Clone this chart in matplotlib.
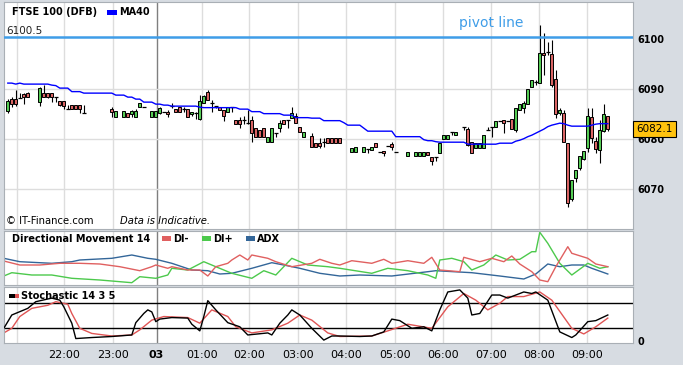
import numpy as np
import matplotlib
matplotlib.use('Agg')
import matplotlib.pyplot as plt
from matplotlib.patches import Rectangle
from matplotlib.transforms import blended_transform_factory

nan = np.nan

# FTSE 100 (DFB) 5 minute bars, bar 0 = 20:55
opens = [6085.7, 6088.0, 6088.0, 6088.2, 6089.0, 6089.3, nan, nan, 6087.5, 6089.3,
         6089.3, 6089.3, 6088.5, 6087.6, 6087.6, 6086.0, 6086.8, 6086.8, 6086.8, 6085.2,
         nan, nan, nan, nan, nan, nan, 6086.0, 6084.5, nan, 6084.5,
         6085.3, 6085.0, 6084.5, 6086.4, 6086.4, nan, 6084.5, 6084.5, 6085.2, 6085.5,
         6085.5, 6086.6, 6086.0, 6086.4, 6086.0, 6086.0, 6085.0, 6085.2, 6084.0, 6087.3,
         6089.5, 6087.2, 6086.6, 6086.4, 6085.8, 6085.5, 6086.4, 6083.8, 6083.8, 6083.8,
         6083.3, 6083.8, 6082.2, 6081.8, 6082.2, 6079.5, 6079.5, 6081.3, 6082.2, 6083.8,
         6083.8, 6084.2, 6084.6, 6082.5, 6080.5, nan, 6080.6, 6079.3, 6079.3, 6079.4,
         6080.2, 6080.2, 6080.2, 6080.2, nan, nan, 6077.5, 6077.5, nan, 6077.5,
         6078.0, 6077.8, 6079.3, 6077.5, 6077.7, 6078.6, 6079.0, 6077.5, nan, nan,
         6076.7, nan, 6076.7, 6076.7, 6076.7, 6077.5, 6076.4, 6076.4, 6077.3, 6080.0,
         6080.0, 6081.5, 6080.8, nan, 6082.4, 6082.0, 6079.5, 6078.2, 6078.2, 6078.2,
         6081.8, 6082.4, 6082.4, 6083.6, 6083.8, 6083.6, 6084.1, 6081.8, 6085.8, 6086.2,
         6087.0, 6090.5, 6091.4, 6091.2, 6097.3, 6097.5, 6097.0, 6092.0, 6085.2, 6085.3,
         6079.3, 6068.0, 6072.2, 6074.2, 6076.0, 6078.2, 6084.4, 6079.7, 6077.8, 6081.6,
         6084.6]
highs = [6088.0, 6088.5, 6089.8, 6089.2, 6089.3, 6089.4, nan, nan, 6090.4, 6090.8,
         6089.3, 6089.3, 6088.5, 6087.7, 6087.6, 6086.8, 6086.8, 6086.8, 6086.8, 6086.8,
         nan, nan, nan, nan, nan, nan, 6086.4, 6085.6, nan, 6085.6,
         6085.3, 6085.8, 6086.0, 6087.3, 6086.4, nan, 6085.6, 6085.6, 6086.5, 6085.5,
         6085.8, 6087.2, 6086.0, 6086.4, 6086.4, 6086.0, 6085.5, 6085.5, 6088.8, 6088.8,
         6089.8, 6087.8, 6086.6, 6086.4, 6085.8, 6086.5, 6086.5, 6083.8, 6084.5, 6084.6,
         6085.8, 6084.6, 6082.2, 6081.8, 6082.2, 6080.4, 6082.2, 6081.3, 6083.8, 6083.8,
         6083.8, 6086.4, 6085.2, 6082.5, 6081.5, nan, 6081.3, 6079.3, 6080.2, 6080.2,
         6080.2, 6080.2, 6080.2, 6080.2, nan, nan, 6078.2, 6078.4, nan, 6078.4,
         6078.0, 6078.4, 6079.3, 6077.5, 6077.7, 6078.6, 6079.5, 6077.5, nan, nan,
         6077.5, nan, 6077.4, 6077.5, 6077.5, 6077.5, 6076.4, 6076.4, 6079.3, 6080.8,
         6080.8, 6081.5, 6081.5, nan, 6082.4, 6082.4, 6079.5, 6079.2, 6079.2, 6080.8,
         6082.4, 6082.4, 6083.6, 6083.6, 6083.8, 6083.6, 6084.1, 6086.2, 6087.0, 6087.6,
         6090.0, 6091.8, 6091.8, 6102.8, 6101.2, 6099.5, 6099.8, 6093.8, 6086.2, 6085.8,
         6079.3, 6071.8, 6073.8, 6076.6, 6077.6, 6086.2, 6086.2, 6080.5, 6083.8, 6087.0,
         6084.6]
lows = [6085.3, 6086.5, 6086.6, 6088.2, 6087.0, 6088.4, nan, nan, 6086.6, 6088.5,
        6088.3, 6087.5, 6087.5, 6086.6, 6086.0, 6086.0, 6086.0, 6086.0, 6085.2, 6085.2,
        nan, nan, nan, nan, nan, nan, 6084.5, 6084.5, nan, 6084.5,
        6084.5, 6084.5, 6084.5, 6086.4, 6086.4, nan, 6084.5, 6084.5, 6085.0, 6085.5,
        6084.5, 6086.2, 6085.5, 6085.5, 6085.5, 6084.5, 6084.6, 6084.0, 6083.8, 6087.3,
        6087.8, 6085.5, 6086.2, 6085.8, 6083.7, 6085.5, 6085.5, 6083.0, 6082.2, 6083.0,
        6083.0, 6079.5, 6080.4, 6080.4, 6080.4, 6079.5, 6079.5, 6080.5, 6081.5, 6083.0,
        6082.2, 6084.2, 6083.2, 6081.4, 6080.5, nan, 6078.4, 6078.4, 6078.2, 6078.4,
        6079.2, 6079.2, 6079.2, 6079.2, nan, nan, 6077.5, 6077.5, nan, 6077.5,
        6077.3, 6077.8, 6078.4, 6077.5, 6076.6, 6078.6, 6077.8, 6077.5, nan, nan,
        6076.7, nan, 6076.7, 6076.7, 6076.7, 6076.8, 6074.8, 6075.7, 6077.3, 6080.0,
        6080.0, 6080.8, 6080.8, nan, 6081.8, 6078.6, 6077.3, 6078.2, 6078.2, 6078.2,
        6081.8, 6080.4, 6082.4, 6083.6, 6081.2, 6083.6, 6082.0, 6081.4, 6085.8, 6085.2,
        6087.0, 6090.5, 6090.8, 6091.2, 6092.8, 6096.8, 6090.5, 6084.2, 6084.8, 6079.5,
        6066.5, 6067.6, 6071.5, 6073.8, 6075.8, 6077.5, 6079.2, 6077.2, 6075.2, 6081.5,
        6081.7]
closes = [6087.6, 6087.0, 6087.0, 6088.2, 6088.5, 6088.5, nan, nan, 6090.2, 6088.5,
          6088.5, 6088.5, 6088.5, 6086.8, 6086.7, 6086.0, 6086.0, 6086.0, 6086.0, 6085.2,
          nan, nan, nan, nan, nan, nan, 6085.5, 6085.6, nan, 6085.6,
          6084.5, 6085.6, 6085.6, 6087.3, 6086.4, nan, 6085.6, 6085.6, 6086.3, 6085.5,
          6085.0, 6086.6, 6085.5, 6085.5, 6086.0, 6084.5, 6085.5, 6085.2, 6087.7, 6088.6,
          6087.8, 6087.2, 6086.6, 6085.8, 6084.6, 6086.5, 6086.4, 6083.0, 6083.0, 6083.8,
          6083.3, 6081.2, 6080.4, 6080.4, 6080.4, 6080.4, 6082.2, 6081.3, 6083.2, 6083.0,
          6083.8, 6085.2, 6083.2, 6081.4, 6081.5, nan, 6078.4, 6078.4, 6078.6, 6079.4,
          6079.2, 6079.2, 6079.2, 6079.2, nan, nan, 6078.2, 6078.4, nan, 6078.4,
          6078.0, 6078.4, 6078.4, 6077.5, 6077.2, 6078.6, 6078.4, 6077.5, nan, nan,
          6077.5, nan, 6077.4, 6077.5, 6077.5, 6076.8, 6075.7, 6076.4, 6079.3, 6080.8,
          6080.8, 6081.5, 6081.5, nan, 6082.4, 6078.8, 6077.3, 6079.2, 6079.2, 6080.8,
          6081.8, 6082.4, 6083.6, 6083.6, 6083.2, 6083.6, 6082.0, 6086.2, 6087.0, 6087.2,
          6090.0, 6091.8, 6091.4, 6097.2, 6096.8, 6097.5, 6090.8, 6085.0, 6085.8, 6079.5,
          6067.3, 6071.8, 6073.8, 6076.6, 6077.6, 6084.6, 6080.2, 6078.1, 6081.8, 6085.0,
          6082.1]
ma40 = [6091.2, 6091.2, 6091.0, 6091.2, 6091.0, 6091.0, 6091.0, 6091.0, 6091.0, 6091.0,
        6091.0, 6090.8, 6090.7, 6090.2, 6090.2, 6090.2, 6089.5, 6089.5, 6089.5, 6089.2,
        6089.2, 6089.2, 6089.2, 6089.2, 6089.2, 6089.2, 6089.2, 6088.8, 6088.8, 6088.8,
        6088.4, 6088.4, 6088.0, 6088.0, 6087.4, 6087.4, 6087.4, 6087.0, 6087.0, 6086.8,
        6086.8, 6086.6, 6086.6, 6086.6, 6086.6, 6086.6, 6086.6, 6086.6, 6086.4, 6086.3,
        6086.3, 6086.3, 6086.3, 6086.3, 6086.3, 6086.3, 6086.3, 6086.3, 6086.0, 6086.0,
        6086.0, 6085.5, 6085.5, 6085.5, 6085.1, 6085.1, 6085.1, 6085.1, 6085.1, 6084.8,
        6084.8, 6084.8, 6084.3, 6084.3, 6084.3, 6084.3, 6084.2, 6084.2, 6084.2, 6083.7,
        6083.7, 6083.7, 6083.7, 6083.7, 6083.3, 6082.8, 6082.8, 6082.8, 6082.8, 6082.2,
        6081.6, 6081.6, 6081.6, 6081.6, 6081.6, 6081.6, 6081.6, 6080.5, 6080.5, 6080.5,
        6080.5, 6080.5, 6080.5, 6080.5, 6079.9, 6079.7, 6079.7, 6079.5, 6079.4, 6079.4,
        6079.4, 6079.4, 6079.4, 6079.4, 6079.4, 6079.0, 6079.0, 6079.0, 6079.0, 6079.0,
        6079.0, 6079.0, 6079.0, 6079.2, 6079.2, 6079.2, 6079.2, 6079.6, 6079.8, 6080.1,
        6080.5, 6080.8, 6081.2, 6081.6, 6082.0, 6082.5, 6082.8, 6083.0, 6083.2, 6083.1,
        6082.8, 6082.6, 6082.6, 6082.6, 6082.6, 6082.6, 6082.8, 6083.0, 6083.1, 6083.1,
        6083.1]

pivot = 6100.5
last_price = 6082.1
price_ticks = [6070, 6080, 6090, 6100]

# hour boundaries (in bars), first one is 21:00 with no label
hour_bars = [2.2, 14.1, 26.4, 37.2, 48.5, 60.4, 72.5, 84.6, 96.7, 108.7, 120.9, 132.9, 144.9]
hour_labels = ['22:00', '23:00', '03', '01:00', '02:00', '03:00', '04:00',
               '05:00', '06:00', '07:00', '08:00', '09:00']

# Directional Movement 14
adx_bars = [-1, 3, 11, 16, 18, 26, 31, 35, 37, 41, 46, 50, 53, 56, 61, 66, 69, 73, 78, 83,
            88, 96, 105, 107, 116, 123, 129, 132, 135, 138, 141, 144, 146, 150]
adx_vals = [27.7, 24.3, 22.7, 24.3, 26, 27.7, 31, 27.7, 26.7, 22.7, 16, 15.3, 12, 12.7, 17.7,
            23.3, 21, 17.7, 12.7, 10, 11, 10, 14.3, 15.3, 13.3, 10, 7, 12, 22, 19.3, 21, 21,
            17.7, 12]
dim_bars = [-1, 3, 8, 13, 18, 23, 28, 33, 36, 37, 40, 41, 45, 48, 50, 52, 55, 56, 58, 60,
            61, 65, 67, 71, 76, 78, 81, 83, 86, 91, 94, 96, 100, 104, 106, 108, 111, 113, 114,
            118, 121, 124, 126, 128, 131, 133, 135, 137, 140, 141, 145, 147, 150]
dim_vals = [25, 21, 21, 22.7, 22.7, 22, 19.3, 15.3, 19.3, 21, 17.7, 19.3, 16, 16, 10, 19.3,
            22.7, 26, 31, 26, 31, 27.7, 24.3, 19.3, 22.7, 26.7, 22.7, 21, 25.3, 22.7, 26.7,
            22.7, 25.3, 22.7, 28.7, 16, 15, 14.3, 28.7, 24.3, 27.7, 24.3, 30, 22, 14.3, 6, 4.3,
            19.3, 39.3, 32.7, 27.7, 22, 19.3]
dip_bars = [-1, 1, 6, 11, 16, 23, 31, 33, 37, 40, 41, 45, 49, 52, 56, 61, 64, 67, 71, 75,
            80, 83, 91, 95, 100, 105, 107, 108, 111, 114, 116, 119, 122, 125, 128, 131, 132,
            133, 135, 138, 141, 145, 148, 150]
dip_vals = [10, 13.3, 11, 11, 7.7, 6, 3.3, 9.3, 7.7, 11, 17.7, 16, 24.3, 19.3, 12.7, 7.7,
            15.3, 11, 27.7, 21, 19.3, 17.7, 12.7, 17.7, 15.3, 11, 7.7, 26, 27.7, 24.3, 16, 21,
            31, 26, 26.7, 34.3, 34.3, 53.7, 42.7, 22.7, 11, 22.7, 17.7, 19.3]

# Stochastic 14 3 5
k_bars = [-1, 1, 5, 7, 11, 13, 14, 16, 17, 21, 26, 31, 32, 34, 35, 36, 37, 38, 41, 45, 46,
          48, 49, 50, 52, 55, 58, 60, 65, 66, 68, 70, 71, 73, 76, 79, 81, 83, 88, 91, 94, 96,
          98, 101, 104, 106, 108, 110, 113, 115, 116, 118, 121, 123, 125, 129, 131, 132, 135,
          138, 141, 142, 145, 147, 150]
k_vals = [25, 51, 64, 77, 84, 80, 67, 35, 5, 7, 9, 12, 36, 54, 61, 57, 38, 43, 46, 45, 33,
          20, 48, 79, 61, 36, 28, 12, 16, 12, 35, 51, 61, 51, 25, 2, 10, 10, 9, 10, 18, 43,
          40, 25, 28, 20, 61, 96, 100, 84, 51, 54, 90, 90, 84, 96, 93, 96, 80, 18, 7, 12, 38,
          40, 51]
d_bars = [-1, 1, 3, 6, 10, 12, 15, 16, 18, 21, 26, 31, 33, 36, 39, 45, 48, 51, 55, 57, 61,
          66, 70, 73, 76, 80, 83, 91, 95, 100, 103, 106, 110, 114, 117, 120, 123, 125, 129,
          133, 136, 141, 144, 147, 150]
d_vals = [16, 25, 48, 64, 70, 77, 72, 54, 25, 15, 10, 12, 22, 41, 48, 46, 35, 61, 48, 28, 16,
          22, 35, 51, 41, 16, 9, 10, 20, 33, 29, 25, 67, 93, 80, 61, 74, 87, 87, 96, 80, 25,
          14, 28, 45]

W, H = 683, 365
BG = '#d7dce2'
GREEN = '#55cc55'
RED = '#d96464'


def px_axes(fig, x0, y0, x1, y1):
    return fig.add_axes([x0 / W, 1 - y1 / H, (x1 - x0) / W, (y1 - y0) / H])


def ftext(fig, x, y, s, **kw):
    fig.text(x / W, 1 - y / H, s, va='center', **kw)


def fbox(fig, x0, y0, x1, y1, color):
    fig.add_artist(Rectangle((x0 / W, 1 - y1 / H), (x1 - x0) / W, (y1 - y0) / H,
                             transform=fig.transFigure, facecolor=color, edgecolor='none'))


def main():
    fig = plt.figure(figsize=(W / 100, H / 100), dpi=100, facecolor=BG)
    ax = px_axes(fig, 4, 2, 633, 229.3)
    ax_dm = px_axes(fig, 4, 230.7, 633, 285)
    ax_st = px_axes(fig, 4, 287.3, 633, 342.7)

    for a in (ax, ax_dm, ax_st):
        a.set_facecolor('white')
        a.set_xlim(-0.95, 156.3)
        a.set_xticks([])
        a.set_yticks([])
        for s in a.spines.values():
            s.set_color('#a9afb5')
        for i, p in enumerate(hour_bars):
            a.axvline(p, color='#7f7f7f' if i == 3 else '#dddddd', lw=1, zorder=0)

    # price panel
    ax.set_ylim(6062.0, 6107.4)
    for v in price_ticks[:-1]:
        ax.axhline(v, color='#dddddd', lw=1, zorder=0)

    for k in range(len(closes)):
        o, h, l, c = opens[k], highs[k], lows[k], closes[k]
        if np.isnan(o):
            continue
        ax.vlines(k, l, h, color='black', lw=0.8, zorder=2)
        if abs(c - o) < 0.15:
            ax.hlines(o, k - 0.45, k + 0.45, color='black', lw=0.9, zorder=3)
        else:
            ax.bar(k, abs(c - o), bottom=min(o, c), width=0.7,
                   color=GREEN if c > o else RED, edgecolor='black', lw=0.7, zorder=3)

    ax.plot(range(len(ma40)), ma40, color='#0000ff', lw=1, zorder=4)
    ax.axhline(pivot, color='#3f9de8', lw=1.8, zorder=5)
    ax.text(-0.5, pivot + 1.1, '%.1f' % pivot, fontsize=7.5, va='center', color='#222222')
    ax.text(120.8, pivot + 2.8, 'pivot line', fontsize=10, ha='center', va='center',
            color='#3f9de8')

    ax.yaxis.tick_right()
    ax.set_yticks(price_ticks)
    ax.set_yticklabels([str(v) for v in price_ticks], fontsize=7, fontweight='bold')
    ax.tick_params(axis='y', length=0, pad=3)

    tr = blended_transform_factory(ax.transAxes, ax.transData)
    ax.text(1.0 + 3.5 / 629, last_price, '%.1f' % last_price, transform=tr, fontsize=7.5,
            va='center', ha='left', clip_on=False, zorder=10,
            bbox=dict(boxstyle='square,pad=0.3', fc='#ffc20e', ec='black', lw=0.8))

    ftext(fig, 12, 12, 'FTSE 100 (DFB)', fontsize=7, fontweight='bold')
    fbox(fig, 107, 10, 117, 14.5, '#0000ff')
    ftext(fig, 119, 12, 'MA40', fontsize=7, fontweight='bold')
    ftext(fig, 6, 221, '\u00a9 IT-Finance.com', fontsize=7.2)
    ftext(fig, 120, 221, 'Data is Indicative.', fontsize=7.2, style='italic')

    # directional movement panel
    ax_dm.set_ylim(1, 55.3)
    ax_dm.plot(adx_bars, adx_vals, color='#336699', lw=1)
    ax_dm.plot(dip_bars, dip_vals, color='#4cc94c', lw=1)
    ax_dm.plot(dim_bars, dim_vals, color='#e06060', lw=1)
    ftext(fig, 12, 238.5, 'Directional Movement 14', fontsize=7, fontweight='bold')
    for x0, col, lab in ((162, '#e06060', 'DI-'), (202, '#4cc94c', 'DI+'),
                         (246, '#336699', 'ADX')):
        fbox(fig, x0, 236, x0 + 9, 241, col)
        ftext(fig, x0 + 11, 238.5, lab, fontsize=7, fontweight='bold')

    # stochastic panel
    ax_st.set_ylim(-3.1, 105.1)
    ax_st.axhline(75, color='black', lw=1, zorder=1)
    ax_st.axhline(25, color='black', lw=1, zorder=1)
    ax_st.plot(d_bars, d_vals, color='#e05555', lw=1, zorder=2)
    ax_st.plot(k_bars, k_vals, color='black', lw=1, zorder=3)
    fbox(fig, 9, 293.5, 15, 298, 'black')
    fbox(fig, 15, 293.5, 19, 298, '#e05555')
    ftext(fig, 21, 296, 'Stochastic 14 3 5', fontsize=7, fontweight='bold')

    ax_st.yaxis.tick_right()
    ax_st.set_yticks([0])
    ax_st.set_yticklabels(['0'], fontsize=7, fontweight='bold')
    ax_st.tick_params(axis='y', length=0, pad=3)

    ax_st.set_xticks(hour_bars[1:])
    ax_st.set_xticklabels(hour_labels, fontsize=8)
    ax_st.tick_params(axis='x', length=0, pad=5)
    for t in ax_st.get_xticklabels():
        if t.get_text() == '03':
            t.set_fontweight('bold')

    fig.savefig('out.png', dpi=100, facecolor=BG)


if __name__ == '__main__':
    main()
